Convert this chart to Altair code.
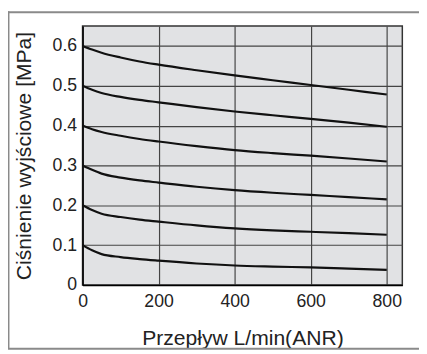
import altair as alt
import pandas as pd

flow = [0, 25, 50, 100, 150, 200, 300, 400, 500, 600, 700, 800]
p06 = [0.600, 0.591, 0.583, 0.571, 0.561, 0.553, 0.539, 0.526, 0.514, 0.502, 0.490, 0.478]
p05 = [0.500, 0.490, 0.482, 0.472, 0.4645, 0.4585, 0.4465, 0.4355, 0.426, 0.417, 0.4075, 0.397]
p04 = [0.400, 0.391, 0.384, 0.3745, 0.3665, 0.360, 0.3485, 0.3385, 0.331, 0.3245, 0.3175, 0.310]
p03 = [0.300, 0.289, 0.2795, 0.2695, 0.2625, 0.257, 0.2465, 0.238, 0.2315, 0.226, 0.2205, 0.215]
p02 = [0.200, 0.188, 0.179, 0.1705, 0.164, 0.159, 0.1495, 0.142, 0.137, 0.1335, 0.130, 0.126]
p01 = [0.100, 0.087, 0.0775, 0.070, 0.065, 0.061, 0.054, 0.049, 0.0462, 0.044, 0.0412, 0.038]

series = {"0.6": p06, "0.5": p05, "0.4": p04, "0.3": p03, "0.2": p02, "0.1": p01}
rows = []
for name, vals in series.items():
    for f, v in zip(flow, vals):
        rows.append({"set": name, "flow": f, "p": v})
df = pd.DataFrame(rows)

x_ticks = [0, 200, 400, 600, 800]
y_ticks = [0, 0.1, 0.2, 0.3, 0.4, 0.5, 0.6]

FONT = "Liberation Sans"
common = dict(ticks=False, labelFontSize=18, grid=True, domainColor="#000000",
              domainWidth=1.5, labelFlush=False, gridColor="#444444", gridWidth=1.2,
              gridOpacity=1, labelFont=FONT, titleFont=FONT, labelColor="#222222",
              titleColor="#222222", titleFontWeight="normal")

lines = alt.Chart(df).mark_line(
    color="#111111", strokeWidth=2.2, interpolate="monotone"
).encode(
    x=alt.X("flow:Q", scale=alt.Scale(domain=[0, 841], nice=False, zero=False),
            axis=alt.Axis(values=x_ticks, title="Przepływ L/min(ANR)",
                          labelPadding=8, titlePadding=18, titleFontSize=21.5, **common)),
    y=alt.Y("p:Q", scale=alt.Scale(domain=[0, 0.65], nice=False),
            axis=alt.Axis(values=y_ticks, title="Ciśnienie wyjściowe [MPa]",
                          labelPadding=6, titlePadding=17, titleFontSize=21.5,
                          labelExpr="datum.value == 0 ? '0' : format(datum.value, '.1f')",
                          **common)),
    detail="set:N",
)

# outer frame (left, top, bottom) in pixel space
frame_left = alt.Chart(pd.DataFrame({"a": [0]})).mark_rule(
    color="#8a8a8a", strokeWidth=2
).encode(x=alt.value(-75.5), y=alt.value(-15), y2=alt.value(329))
frame_top = alt.Chart(pd.DataFrame({"a": [0]})).mark_rule(
    color="#8a8a8a", strokeWidth=2
).encode(x=alt.value(-76), x2=alt.value(345), y=alt.value(-14))
frame_bottom = alt.Chart(pd.DataFrame({"a": [0]})).mark_rule(
    color="#8a8a8a", strokeWidth=2
).encode(x=alt.value(-76), x2=alt.value(345), y=alt.value(329))

chart = alt.layer(lines, frame_left, frame_top, frame_bottom).properties(
    width=326, height=264,
    autosize=alt.AutoSizeParams(type="none"),
    padding={"left": 76, "top": 15, "right": 17, "bottom": 67},
    background="white",
).configure_view(
    fill="#e1e2e4", stroke="#333333", strokeWidth=1.5
)

chart.save("out.html", embed_options={"renderer": "svg", "actions": False})
